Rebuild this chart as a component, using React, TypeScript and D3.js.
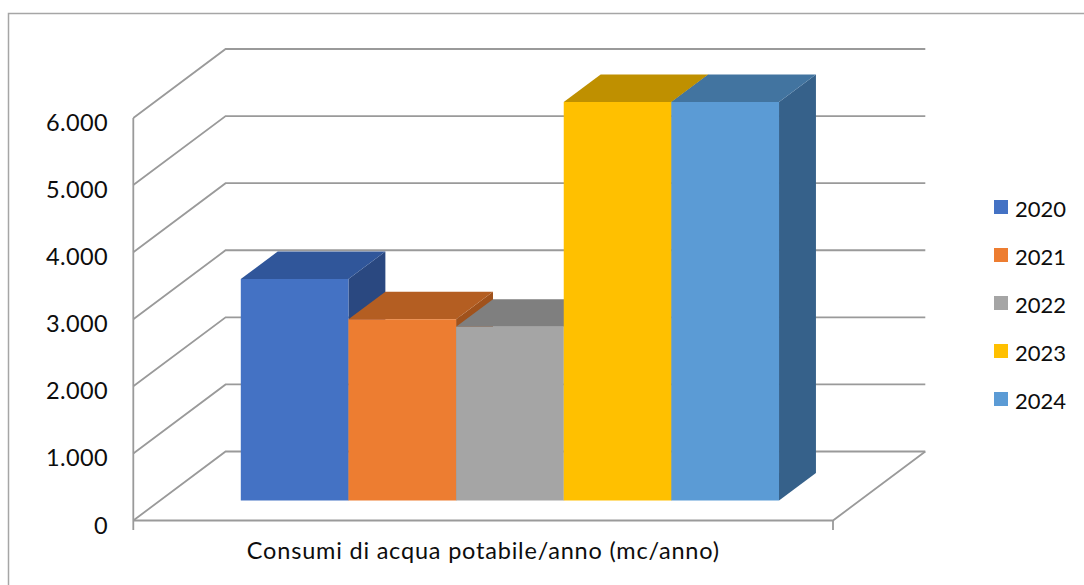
import React from "react";
import * as d3 from "d3";

// Annual drinking-water consumption (mc/anno), one bar per year
const years = ["2020", "2021", "2022", "2023", "2024"];
const consumi = [3300, 2700, 2590, 5940, 5940];
const yTicks = [0, 1000, 2000, 3000, 4000, 5000, 6000];
const categoryLabel = "Consumi di acqua potabile/anno (mc/anno)";

// Face colours per series: front, top, right side
const frontColors = ["#4472C4", "#ED7D31", "#A5A5A5", "#FFC000", "#5B9BD5"];
const topColors = ["#30569A", "#B45E22", "#7F7F7F", "#BF9000", "#4274A0"];
const sideColors = ["#2A4880", "#A0521C", "#6E6E6E", "#A67D00", "#36618A"];

const W = 1084;
const H = 585;
const FONT = "Lato, 'Open Sans', sans-serif";

// Oblique 3D box: front plane at depth 0, back plane shifted by (DX, DY)
const DX = 92.3;
const DY = -69;
const BAR_T0 = 0.29;
const BAR_T1 = 0.69;
const GRID = "#9a9a9a";

export default function App() {
  const y = d3.scaleLinear().domain([0, 6000]).range([520.5, 118]);
  const x = d3
    .scaleBand<string>()
    .domain(years)
    .range([133.3, 833])
    .paddingInner(0)
    .paddingOuter(0.75);
  const xLeft = 133.3;
  const xRight = 833;

  const proj = (px: number, v: number, t: number): [number, number] => [
    px + DX * t,
    y(v) + DY * t,
  ];
  const poly = (pts: [number, number][]) =>
    pts.map((p) => `${p[0].toFixed(2)},${p[1].toFixed(2)}`).join(" ");

  const line = d3.line();

  return (
    <svg
      width={W}
      height={H}
      style={{ position: "absolute", left: 0, top: 0, background: "#fff" }}
      fontFamily={FONT}
    >
      {/* chart area border */}
      <rect x={8.5} y={13.5} width={1080} height={640} fill="#fff" stroke="#a6a6a6" strokeWidth={1.5} />

      {/* gridlines: left wall diagonals + back wall horizontals */}
      {yTicks.map((v) => (
        <path
          key={v}
          d={line([proj(xLeft, v, 0), proj(xLeft, v, 1), proj(xRight, v, 1)]) || ""}
          fill="none"
          stroke={GRID}
          strokeWidth={1.8}
        />
      ))}

      {/* floor outline */}
      <path
        d={line([proj(xLeft, 0, 0), proj(xRight, 0, 0), proj(xRight, 0, 1)]) || ""}
        fill="none"
        stroke={GRID}
        strokeWidth={1.8}
      />
      {/* value axis (front left edge) with end tick */}
      <line x1={xLeft} x2={xLeft} y1={y(6000)} y2={y(0) + 9.5} stroke={GRID} strokeWidth={1.8} />
      <line x1={xRight} x2={xRight} y1={y(0)} y2={y(0) + 9.5} stroke={GRID} strokeWidth={1.8} />

      {/* tick labels */}
      {yTicks.map((v) => (
        <text
          key={v}
          x={108}
          y={y(v) + 4}
          textAnchor="end"
          dominantBaseline="central"
          fontSize={23.5}
          letterSpacing={0.4}
          fill="#0d0d0d"
        >
          {d3.format(",")(v).replace(/,/g, ".")}
        </text>
      ))}

      {/* bars, painted left to right */}
      {years.map((yr, i) => {
        const x0 = x(yr) as number;
        const x1 = x0 + x.bandwidth();
        const v = consumi[i];
        const side = [proj(x1, 0, BAR_T0), proj(x1, v, BAR_T0), proj(x1, v, BAR_T1), proj(x1, 0, BAR_T1)];
        const top = [proj(x0, v, BAR_T0), proj(x1, v, BAR_T0), proj(x1, v, BAR_T1), proj(x0, v, BAR_T1)];
        const front = [proj(x0, 0, BAR_T0), proj(x1, 0, BAR_T0), proj(x1, v, BAR_T0), proj(x0, v, BAR_T0)];
        return (
          <g key={yr}>
            <polygon points={poly(side as [number, number][])} fill={sideColors[i]} />
            <polygon points={poly(top as [number, number][])} fill={topColors[i]} />
            <polygon points={poly(front as [number, number][])} fill={frontColors[i]} />
          </g>
        );
      })}

      {/* category axis title */}
      <text x={483.3} y={558.5} textAnchor="middle" fontSize={23.5} letterSpacing={0.8} fill="#0d0d0d">
        {categoryLabel}
      </text>

      {/* legend */}
      {years.map((yr, i) => {
        const cy = 207 + i * 48;
        return (
          <g key={yr}>
            <rect x={994} y={cy - 7} width={14} height={14} fill={frontColors[i]} />
            <text x={1015} y={cy + 1} dominantBaseline="central" fontSize={22} fill="#0d0d0d">
              {yr}
            </text>
          </g>
        );
      })}
    </svg>
  );
}
